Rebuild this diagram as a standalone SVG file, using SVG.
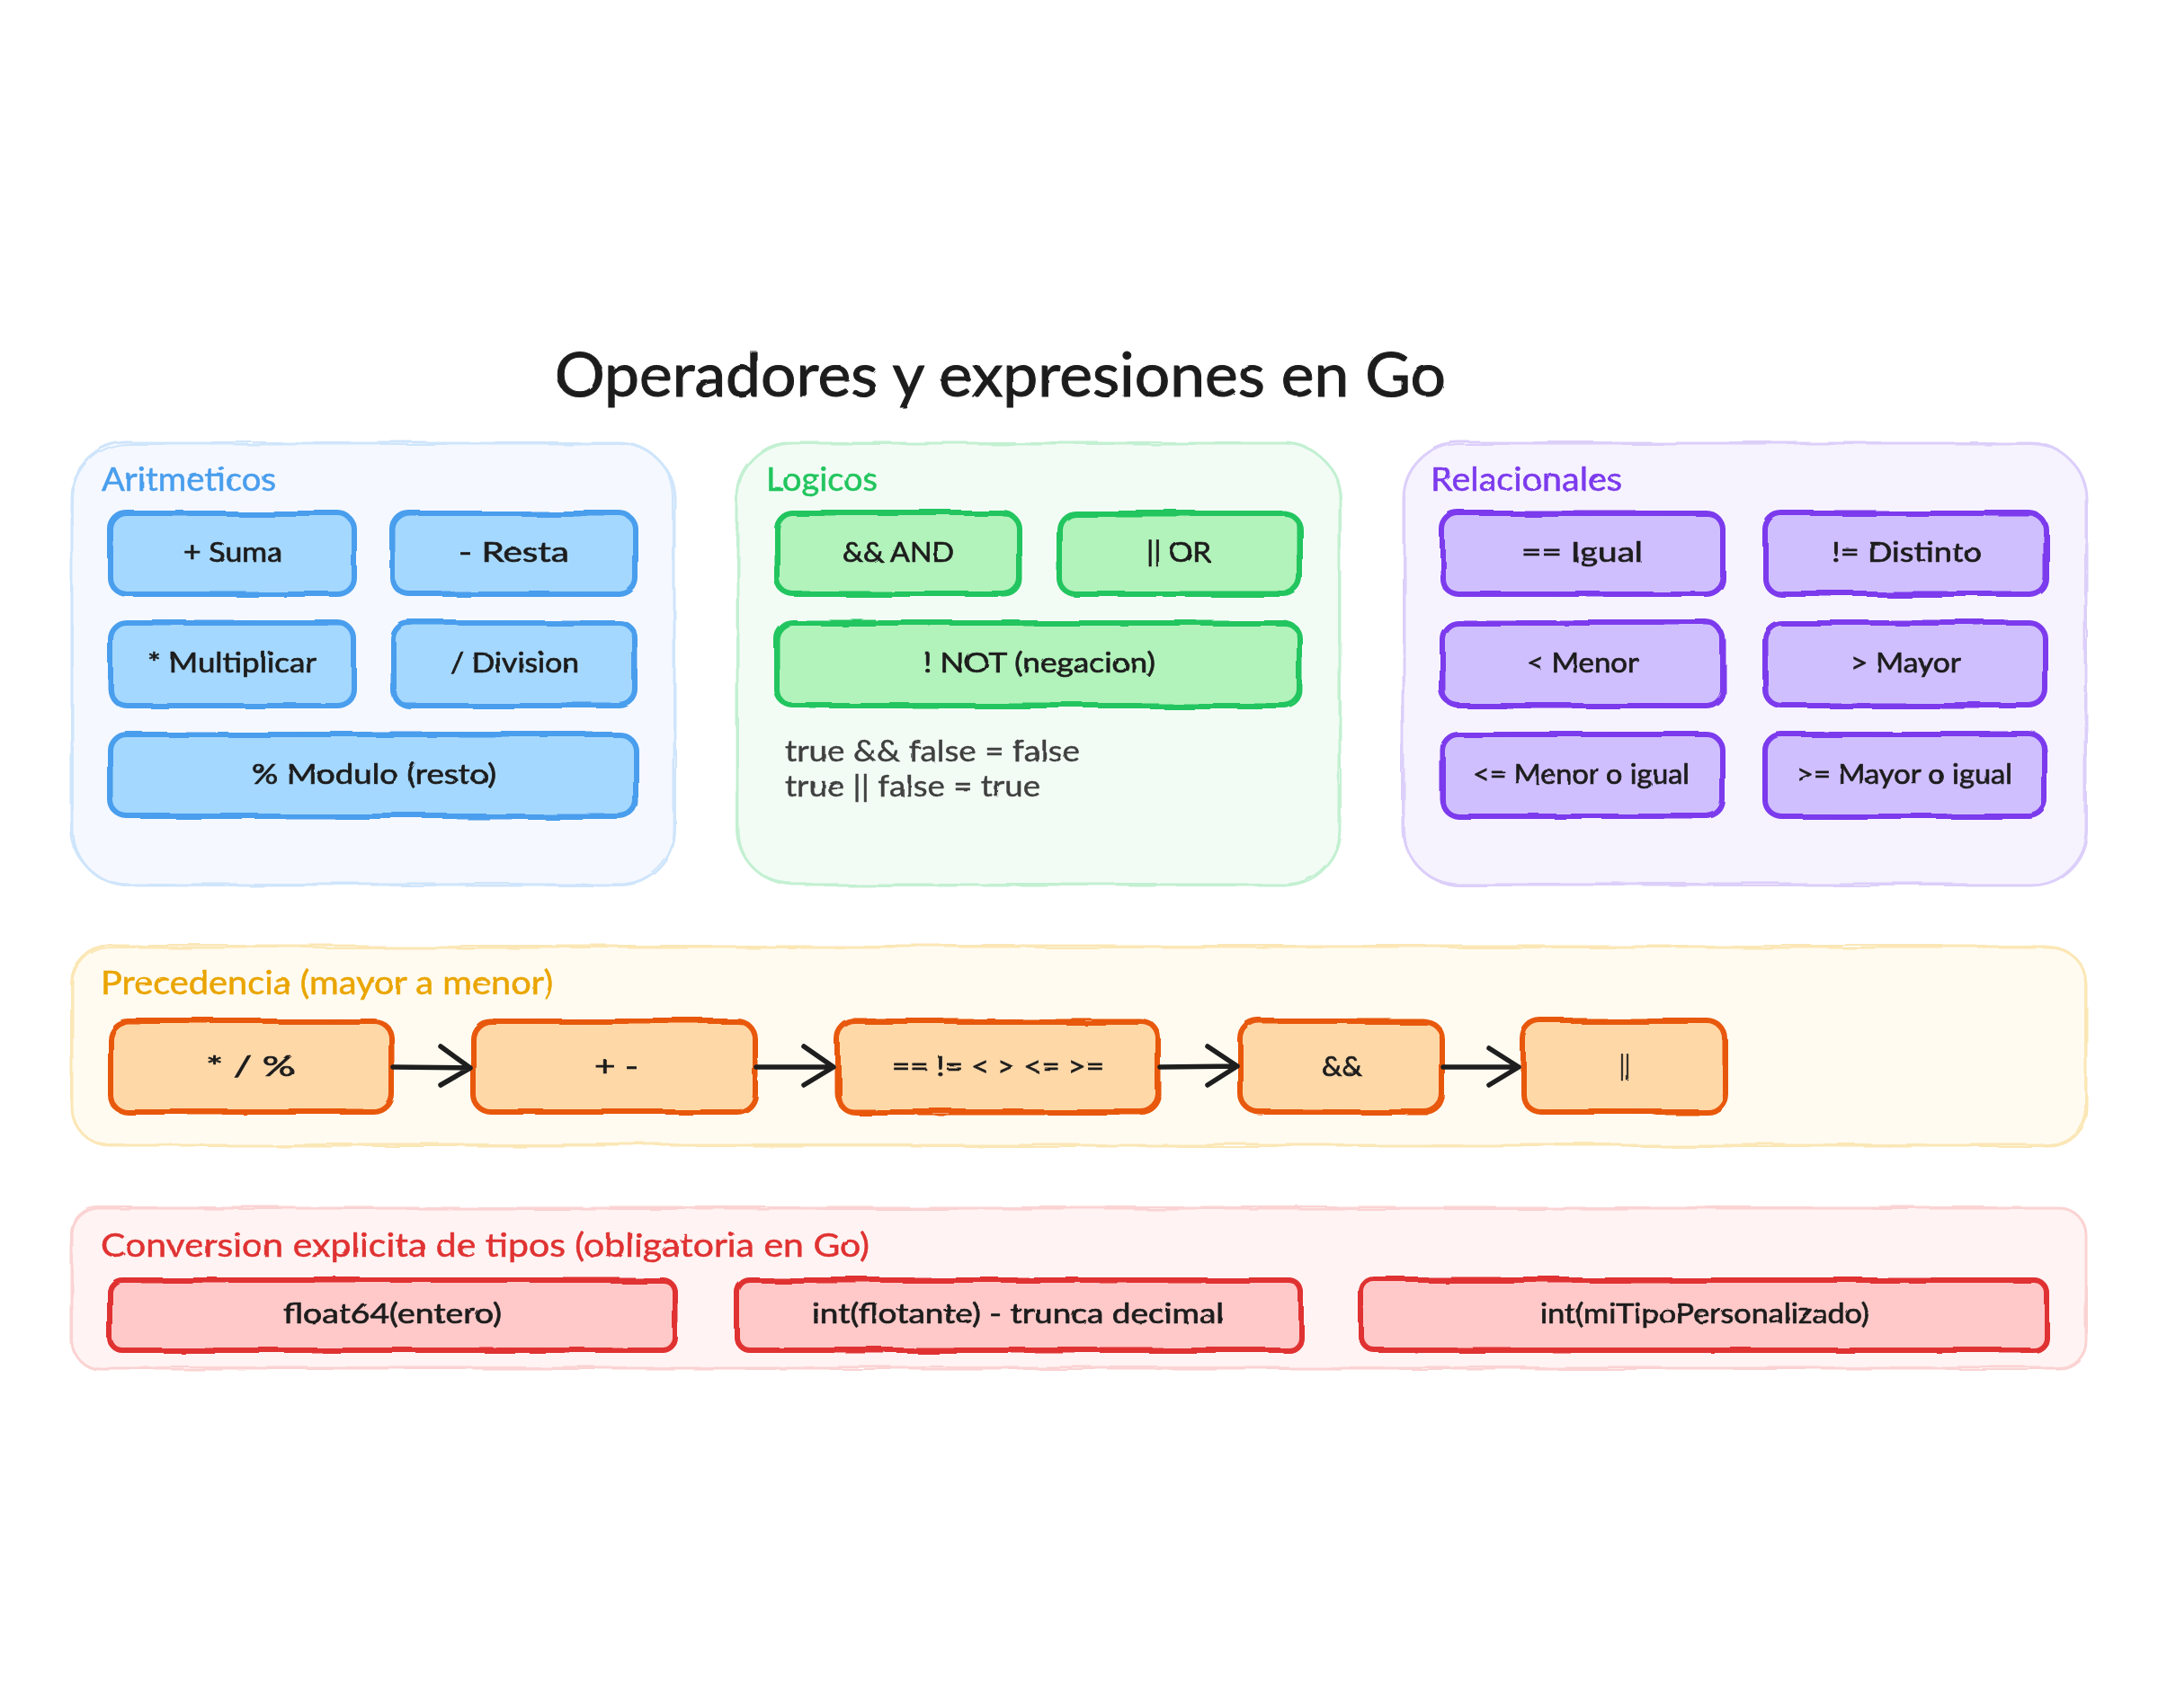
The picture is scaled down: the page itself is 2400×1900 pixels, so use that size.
<svg xmlns="http://www.w3.org/2000/svg" width="2400" height="1900" viewBox="0 0 2400 1900">
<style>
text{font-family:"Lato","Noto Sans",sans-serif;fill:#1e1e1e}
.t{font-size:31px;stroke:#1e1e1e;stroke-width:.7;filter:url(#tw)}
.h{font-size:37px;stroke-width:.5;filter:url(#tw)}
.title{font-size:68px;stroke:#1e1e1e;stroke-width:1;filter:url(#tw)}
.note{font-size:32px;fill:#3f3f3f;stroke:#3f3f3f;stroke-width:.4;filter:url(#tw)}
.s{stroke-width:6;stroke-linejoin:round;filter:url(#w)}
.s2{fill:none;stroke-width:3;filter:url(#w2)}
.p{stroke-width:3;filter:url(#w)}
.p2{fill:none;stroke-width:2;filter:url(#w2)}
.blue{fill:#a5d8ff;stroke:#4a9eed}.blue2{stroke:#4a9eed}
.green{fill:#b2f2bb;stroke:#22c55e}.green2{stroke:#22c55e}
.purple{fill:#d0bfff;stroke:#7c3aed}.purple2{stroke:#7c3aed}
.orange{fill:#ffd8a8;stroke:#e8590c}.orange2{stroke:#e8590c}
.red{fill:#ffc9c9;stroke:#e03131}.red2{stroke:#e03131}
.a{fill:none;stroke:#1e1e1e;stroke-width:5.5;stroke-linecap:round;stroke-linejoin:round}
</style>
<defs>
<filter id="w" x="-5%" y="-10%" width="110%" height="120%"><feTurbulence type="fractalNoise" baseFrequency="0.012" numOctaves="2" seed="3"/><feDisplacementMap in="SourceGraphic" scale="7"/></filter>
<filter id="w2" x="-5%" y="-10%" width="110%" height="120%"><feTurbulence type="fractalNoise" baseFrequency="0.01" numOctaves="2" seed="11"/><feDisplacementMap in="SourceGraphic" scale="9"/></filter>
<filter id="tw" x="-5%" y="-20%" width="110%" height="140%"><feTurbulence type="fractalNoise" baseFrequency="0.06" numOctaves="1" seed="5"/><feDisplacementMap in="SourceGraphic" scale="2.5"/></filter>
</defs>
<text class="title" x="617" y="441" textLength="991" lengthAdjust="spacingAndGlyphs">Operadores y expresiones en Go</text>

<g id="panel-aritmeticos">
<rect class="p" x="80" y="493" width="670" height="491" rx="62" fill="#f5f8ff" stroke="#cfe5fb"/>
<rect class="p2" x="80" y="493" width="670" height="491" rx="62" stroke="#cfe5fb"/>
<text class="h" x="113" y="546" textLength="194" lengthAdjust="spacingAndGlyphs" style="fill:#4a9eed;stroke:#4a9eed">Aritmeticos</text>
</g>
<g id="panel-logicos">
<rect class="p" x="820" y="493" width="670" height="491" rx="62" fill="#f2fcf5" stroke="#c3f0d2"/>
<rect class="p2" x="820" y="493" width="670" height="491" rx="62" stroke="#c3f0d2"/>
<text class="h" x="852" y="546" textLength="124" lengthAdjust="spacingAndGlyphs" style="fill:#22c55e;stroke:#22c55e">Logicos</text>
<text class="note" x="873" y="847" textLength="328" lengthAdjust="spacingAndGlyphs">true &amp;&amp; false = false</text>
<text class="note" x="873" y="886" textLength="284" lengthAdjust="spacingAndGlyphs">true || false = true</text>
</g>
<g id="panel-relacionales">
<rect class="p" x="1561" y="493" width="759" height="491" rx="62" fill="#f6f3ff" stroke="#dccffa"/>
<rect class="p2" x="1561" y="493" width="759" height="491" rx="62" stroke="#dccffa"/>
<text class="h" x="1591" y="546" textLength="213" lengthAdjust="spacingAndGlyphs" style="fill:#7c3aed;stroke:#7c3aed">Relacionales</text>
</g>
<g id="panel-precedencia">
<rect class="p" x="80" y="1053" width="2240" height="221" rx="42" fill="#fffbf0" stroke="#fbe7b6"/>
<rect class="p2" x="80" y="1053" width="2240" height="221" rx="42" stroke="#fbe7b6"/>
<text class="h" x="112" y="1106" textLength="503" lengthAdjust="spacingAndGlyphs" style="fill:#eaa500;stroke:#eaa500">Precedencia (mayor a menor)</text>
</g>
<g id="panel-conversion">
<rect class="p" x="80" y="1344" width="2240" height="178" rx="30" fill="#fff3f3" stroke="#fbd3d3"/>
<rect class="p2" x="80" y="1344" width="2240" height="178" rx="30" stroke="#fbd3d3"/>
<text class="h" x="112" y="1398" textLength="855" lengthAdjust="spacingAndGlyphs" style="fill:#e03131;stroke:#e03131">Conversion explicita de tipos (obligatoria en Go)</text>
</g>

<g id="n-suma"><rect class="s blue" x="123" y="571" width="271" height="90" rx="18"/><rect class="s2 blue2" x="123" y="571" width="271" height="90" rx="18"/><text class="t" x="204" y="625" textLength="110" lengthAdjust="spacingAndGlyphs">+ Suma</text></g>
<g id="n-resta"><rect class="s blue" x="437" y="571" width="270" height="90" rx="18"/><rect class="s2 blue2" x="437" y="571" width="270" height="90" rx="18"/><text class="t" x="510" y="625" textLength="123" lengthAdjust="spacingAndGlyphs">- Resta</text></g>
<g id="n-mult"><rect class="s blue" x="123" y="693" width="271" height="92" rx="18"/><rect class="s2 blue2" x="123" y="693" width="271" height="92" rx="18"/><text class="t" x="164" y="748" textLength="188" lengthAdjust="spacingAndGlyphs">* Multiplicar</text></g>
<g id="n-div"><rect class="s blue" x="437" y="693" width="270" height="92" rx="18"/><rect class="s2 blue2" x="437" y="693" width="270" height="92" rx="18"/><text class="t" x="501" y="748" textLength="143" lengthAdjust="spacingAndGlyphs">/ Division</text></g>
<g id="n-mod"><rect class="s blue" x="123" y="817" width="584" height="91" rx="18"/><rect class="s2 blue2" x="123" y="817" width="584" height="91" rx="18"/><text class="t" x="280" y="872" textLength="272" lengthAdjust="spacingAndGlyphs">% Modulo (resto)</text></g>

<g id="n-and"><rect class="s green" x="864" y="571" width="270" height="90" rx="18"/><rect class="s2 green2" x="864" y="571" width="270" height="90" rx="18"/><text class="t" x="937" y="625" textLength="124" lengthAdjust="spacingAndGlyphs">&amp;&amp; AND</text></g>
<g id="n-or"><rect class="s green" x="1178" y="571" width="268" height="90" rx="18"/><rect class="s2 green2" x="1178" y="571" width="268" height="90" rx="18"/><text class="t" x="1275" y="625" textLength="72" lengthAdjust="spacingAndGlyphs">|| OR</text></g>
<g id="n-not"><rect class="s green" x="864" y="693" width="582" height="92" rx="18"/><rect class="s2 green2" x="864" y="693" width="582" height="92" rx="18"/><text class="t" x="1027" y="748" textLength="258" lengthAdjust="spacingAndGlyphs">! NOT (negacion)</text></g>

<g id="n-igual"><rect class="s purple" x="1604" y="571" width="312" height="90" rx="18"/><rect class="s2 purple2" x="1604" y="571" width="312" height="90" rx="18"/><text class="t" x="1692" y="625" textLength="135" lengthAdjust="spacingAndGlyphs">== Igual</text></g>
<g id="n-distinto"><rect class="s purple" x="1963" y="571" width="312" height="90" rx="18"/><rect class="s2 purple2" x="1963" y="571" width="312" height="90" rx="18"/><text class="t" x="2037" y="625" textLength="167" lengthAdjust="spacingAndGlyphs">!= Distinto</text></g>
<g id="n-menor"><rect class="s purple" x="1604" y="693" width="312" height="92" rx="18"/><rect class="s2 purple2" x="1604" y="693" width="312" height="92" rx="18"/><text class="t" x="1698" y="748" textLength="124" lengthAdjust="spacingAndGlyphs">&lt; Menor</text></g>
<g id="n-mayor"><rect class="s purple" x="1963" y="693" width="312" height="92" rx="18"/><rect class="s2 purple2" x="1963" y="693" width="312" height="92" rx="18"/><text class="t" x="2058" y="748" textLength="123" lengthAdjust="spacingAndGlyphs">&gt; Mayor</text></g>
<g id="n-menorigual"><rect class="s purple" x="1604" y="817" width="312" height="91" rx="18"/><rect class="s2 purple2" x="1604" y="817" width="312" height="91" rx="18"/><text class="t" x="1638" y="872" textLength="241" lengthAdjust="spacingAndGlyphs">&lt;= Menor o igual</text></g>
<g id="n-mayorigual"><rect class="s purple" x="1963" y="817" width="312" height="91" rx="18"/><rect class="s2 purple2" x="1963" y="817" width="312" height="91" rx="18"/><text class="t" x="1998" y="872" textLength="240" lengthAdjust="spacingAndGlyphs">&gt;= Mayor o igual</text></g>

<g id="n-p1"><rect class="s orange" x="122" y="1136" width="314" height="101" rx="20"/><rect class="s2 orange2" x="122" y="1136" width="314" height="101" rx="20"/><text class="t" x="229" y="1197" textLength="99" lengthAdjust="spacingAndGlyphs">* / %</text></g>
<g id="n-p2"><rect class="s orange" x="526" y="1136" width="314" height="101" rx="20"/><rect class="s2 orange2" x="526" y="1136" width="314" height="101" rx="20"/><text class="t" x="661" y="1197" textLength="49" lengthAdjust="spacingAndGlyphs">+ -</text></g>
<g id="n-p3"><rect class="s orange" x="931" y="1136" width="358" height="101" rx="20"/><rect class="s2 orange2" x="931" y="1136" width="358" height="101" rx="20"/><text class="t" x="992" y="1197" textLength="236" lengthAdjust="spacingAndGlyphs">== != &lt; &gt; &lt;= &gt;=</text></g>
<g id="n-p4"><rect class="s orange" x="1380" y="1136" width="224" height="101" rx="20"/><rect class="s2 orange2" x="1380" y="1136" width="224" height="101" rx="20"/><text class="t" x="1470" y="1197" textLength="45" lengthAdjust="spacingAndGlyphs">&amp;&amp;</text></g>
<g id="n-p5"><rect class="s orange" x="1694" y="1136" width="225" height="101" rx="20"/><rect class="s2 orange2" x="1694" y="1136" width="225" height="101" rx="20"/><text class="t" x="1801" y="1197" textLength="12" lengthAdjust="spacingAndGlyphs">||</text></g>

<g id="n-c1"><rect class="s red" x="122" y="1424" width="629" height="78" rx="14"/><rect class="s2 red2" x="122" y="1424" width="629" height="78" rx="14"/><text class="t" x="315" y="1472" textLength="243" lengthAdjust="spacingAndGlyphs">float64(entero)</text></g>
<g id="n-c2"><rect class="s red" x="820" y="1424" width="627" height="78" rx="14"/><rect class="s2 red2" x="820" y="1424" width="627" height="78" rx="14"/><text class="t" x="903" y="1472" textLength="458" lengthAdjust="spacingAndGlyphs">int(flotante) - trunca decimal</text></g>
<g id="n-c3"><rect class="s red" x="1515" y="1424" width="761" height="78" rx="14"/><rect class="s2 red2" x="1515" y="1424" width="761" height="78" rx="14"/><text class="t" x="1713" y="1472" textLength="366" lengthAdjust="spacingAndGlyphs">int(miTipoPersonalizado)</text></g>

<g id="connectors">
<path class="a" d="M437 1187L523 1188M490 1164L523 1188L490 1207"/>
<path class="a" d="M841 1187L927 1187M894 1164L927 1187L894 1207"/>
<path class="a" d="M1290 1187L1376 1186M1343 1164L1376 1186L1343 1207"/>
<path class="a" d="M1605 1187L1689 1187M1656 1166L1689 1187L1656 1207"/>
</g>
</svg>
